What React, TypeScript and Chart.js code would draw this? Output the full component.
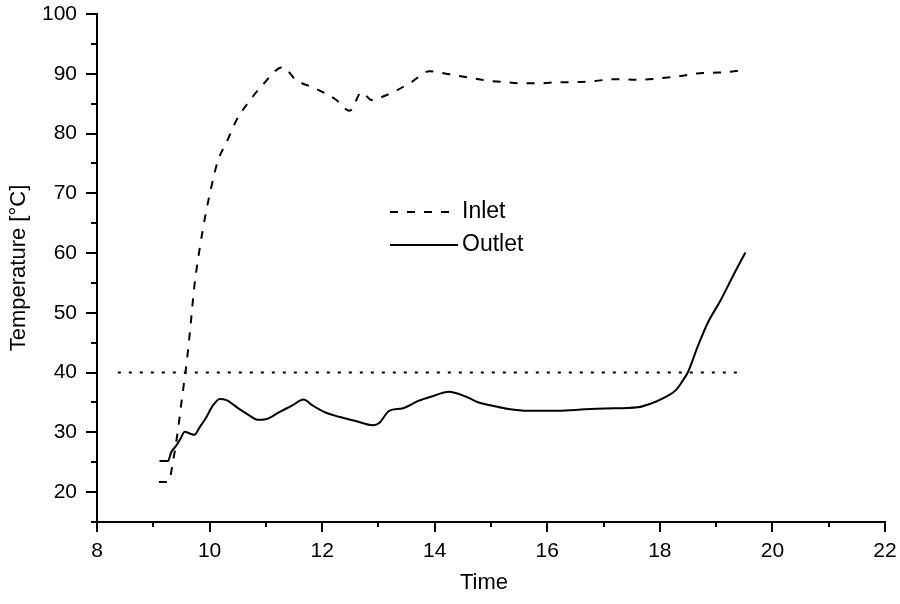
import { useEffect, useRef } from 'react';
import { Chart, registerables } from 'chart.js';

Chart.register(...registerables);

// ---- data ----
const inletTime = [9.10, 9.27, 9.35, 9.44, 9.52, 9.57, 9.65, 9.73, 9.82, 9.93, 10.03, 10.15, 10.30, 10.47, 10.68, 10.94, 11.30, 11.53, 11.89, 12.24, 12.49, 12.70, 12.88, 13.00, 13.30, 13.60, 13.90, 14.27, 14.58, 14.90, 15.24, 15.56, 15.88, 16.20, 16.50, 16.85, 17.18, 17.60, 17.96, 18.35, 18.70, 19.03, 19.52];
const inletTemp = [21.7, 21.7, 25.1, 30.5, 36.5, 39.9, 46.7, 54.5, 60.5, 66.5, 71.0, 75.5, 78.5, 82.1, 85.1, 88.1, 91.1, 89.0, 87.5, 85.7, 83.8, 86.9, 85.6, 85.9, 87.1, 88.7, 90.4, 89.9, 89.4, 88.9, 88.6, 88.4, 88.4, 88.6, 88.6, 88.8, 89.1, 89.0, 89.2, 89.6, 90.1, 90.2, 90.6];

const outletTime = [9.11, 9.26, 9.32, 9.41, 9.48, 9.56, 9.65, 9.73, 9.82, 9.94, 10.06, 10.18, 10.30, 10.53, 10.71, 10.86, 11.00, 11.24, 11.47, 11.67, 11.83, 12.04, 12.30, 12.60, 12.90, 13.02, 13.19, 13.42, 13.72, 13.95, 14.25, 14.55, 14.78, 15.01, 15.31, 15.66, 16.14, 16.55, 17.02, 17.61, 17.84, 18.08, 18.29, 18.41, 18.50, 18.67, 18.85, 19.08, 19.29, 19.52];
const outletTemp = [25.2, 25.2, 26.7, 27.8, 28.9, 30.1, 29.8, 29.6, 30.8, 32.5, 34.5, 35.6, 35.4, 33.9, 32.8, 32.1, 32.2, 33.4, 34.5, 35.5, 34.5, 33.4, 32.6, 31.9, 31.2, 31.6, 33.6, 34.0, 35.3, 36.0, 36.8, 36.0, 35.0, 34.5, 33.9, 33.6, 33.6, 33.8, 34.0, 34.2, 34.8, 35.8, 37.1, 38.7, 40.1, 44.3, 48.3, 52.1, 56.0, 60.1];

const limitTime = [8.37, 19.38];
const limitTemp = [40, 40];

const seriesLabels = ['Inlet', 'Outlet'];
const xTitle = 'Time';
const yTitle = 'Temperature [°C]';

const FONT = "'Liberation Sans', Arial, Helvetica, sans-serif";

export default function App() {
  const ref = useRef<HTMLCanvasElement>(null);

  useEffect(() => {
    document.body.style.margin = '0';
    const canvas = ref.current;
    if (!canvas) return;

    const tickPlugin = {
      id: 'axisTicks',
      afterDraw(chart: any) {
        const ctx = chart.ctx;
        const xs = chart.scales.x;
        const ys = chart.scales.y;
        const area = chart.chartArea;
        ctx.save();
        ctx.strokeStyle = '#000';
        ctx.lineWidth = 2;
        xs.ticks.forEach((t: any) => {
          const px = Math.round(xs.getPixelForValue(t.value));
          const len = t.value % 2 === 0 ? 10 : 5;
          ctx.beginPath();
          ctx.moveTo(px, area.bottom);
          ctx.lineTo(px, area.bottom + len);
          ctx.stroke();
        });
        ys.ticks.forEach((t: any) => {
          const py = Math.round(ys.getPixelForValue(t.value));
          const len = t.value % 10 === 0 ? 11 : 6;
          ctx.beginPath();
          ctx.moveTo(area.left, py);
          ctx.lineTo(area.left - len, py);
          ctx.stroke();
        });
        // x-axis title, slightly left of the plot centre as in the reference
        ctx.font = `22px ${FONT}`;
        ctx.fillStyle = '#000';
        ctx.textAlign = 'center';
        ctx.textBaseline = 'middle';
        ctx.fillText(xTitle, (area.left + area.right) / 2 - 7, 583);
        ctx.restore();
      },
    };

    const legendPlugin = {
      id: 'innerLegend',
      afterDraw(chart: any) {
        const ctx = chart.ctx;
        const rows = [0, 1];
        ctx.save();
        ctx.font = `23px ${FONT}`;
        ctx.fillStyle = '#000';
        ctx.textBaseline = 'middle';
        ctx.textAlign = 'left';
        rows.forEach((di, i) => {
          const ds = chart.data.datasets[di];
          const y = 212 + i * 33;
          ctx.strokeStyle = '#000';
          ctx.lineWidth = 2;
          ctx.setLineDash(ds.borderDash || []);
          ctx.beginPath();
          ctx.moveTo(390, y);
          ctx.lineTo(458, y);
          ctx.stroke();
          ctx.setLineDash([]);
          ctx.fillText(ds.label, 462, y);
        });
        ctx.restore();
      },
    };

    const chart = new Chart(canvas, {
      type: 'line',
      data: {
        datasets: [
          {
            label: seriesLabels[0],
            data: inletTime.map((t, i) => ({ x: t, y: inletTemp[i] })),
            borderColor: '#000',
            borderWidth: 2,
            borderDash: [8, 9],
            pointRadius: 0,
            cubicInterpolationMode: 'monotone',
            fill: false,
          },
          {
            label: seriesLabels[1],
            data: outletTime.map((t, i) => ({ x: t, y: outletTemp[i] })),
            borderColor: '#000',
            borderWidth: 2,
            pointRadius: 0,
            cubicInterpolationMode: 'monotone',
            fill: false,
          },
          {
            label: 'limit',
            data: limitTime.map((t, i) => ({ x: t, y: limitTemp[i] })),
            borderColor: '#000',
            borderWidth: 2,
            borderDash: [3, 8],
            pointRadius: 0,
            fill: false,
          },
        ],
      },
      options: {
        animation: false,
        responsive: false,
        maintainAspectRatio: false,
        layout: { padding: { top: 14, right: 15, left: 0, bottom: 0 } },
        plugins: {
          legend: { display: false },
          tooltip: { enabled: false },
        },
        scales: {
          x: {
            type: 'linear',
            min: 8,
            max: 22,
            afterFit: (s: any) => { s.height = 82; s.paddingLeft = 0; s.paddingRight = 0; },
            border: { display: true, color: '#000', width: 2 },
            grid: { display: true, drawOnChartArea: false, drawTicks: false, color: 'rgba(0,0,0,0)' },
            ticks: {
              stepSize: 1,
              autoSkip: false,
              maxRotation: 0,
              padding: 17,
              color: '#000',
              font: { family: FONT, size: 21 },
              callback: (v: any) => (Number(v) % 2 === 0 ? String(v) : ''),
            },
            title: { display: false, text: xTitle },
          },
          y: {
            type: 'linear',
            min: 15,
            max: 100,
            afterFit: (s: any) => { s.width = 97; s.paddingTop = 0; s.paddingBottom = 0; },
            border: { display: true, color: '#000', width: 2 },
            grid: { display: true, drawOnChartArea: false, drawTicks: false, color: 'rgba(0,0,0,0)' },
            ticks: {
              stepSize: 5,
              autoSkip: false,
              padding: 20,
              color: '#000',
              font: { family: FONT, size: 21 },
              callback: (v: any) => (Number(v) % 10 === 0 ? String(v) : ''),
            },
            title: {
              display: true,
              text: yTitle,
              color: '#000',
              font: { family: FONT, size: 22 },
              padding: { top: 6, bottom: 0 },
            },
          },
        },
      },
      plugins: [tickPlugin, legendPlugin],
    } as any);

    return () => chart.destroy();
  }, []);

  return (
    <div style={{ width: 900, height: 604, position: 'relative' }}>
      <canvas ref={ref} width={900} height={604} style={{ display: 'block' }} />
    </div>
  );
}
